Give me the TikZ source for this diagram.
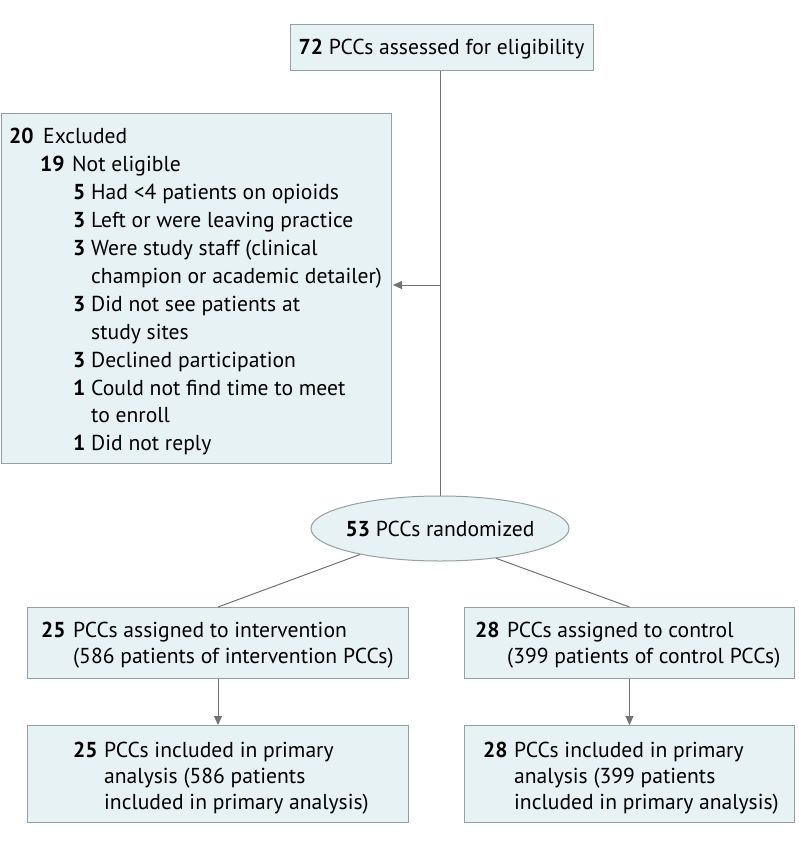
\documentclass[tikz,border=0pt]{standalone}
\usepackage{fontspec}
\setmainfont{PT Sans}
\usetikzlibrary{arrows.meta,shapes.geometric}
\definecolor{boxfill}{RGB}{230,242,243}
\definecolor{boxline}{RGB}{150,160,160}
\definecolor{lineg}{RGB}{115,115,115}
\newcommand{\fs}{\fontsize{21.6}{25}\selectfont}
\begin{document}
\begin{tikzpicture}[x=1pt,y=-1pt,font=\fs,
  box/.style={draw=boxline, fill=boxfill, line width=1pt, rectangle, inner sep=0pt, anchor=north west},
  txt/.style={anchor=base west, inner sep=0pt},
  num/.style={anchor=base west, inner sep=0pt, font=\fs\bfseries},
  conn/.style={draw=lineg, line width=1pt},
  arr/.style={conn, -{Triangle[length=9pt,width=8pt]}}]
\useasboundingbox (0,0) rectangle (798,843);

% boxes
\node[box, minimum width=303pt, minimum height=46pt] (top) at (290,24) {};
\node[anchor=base, inner sep=0pt] (toptxt) at (441.5,55) {\textbf{72} PCCs assessed for eligibility};

\node[box, minimum width=390pt, minimum height=350pt] (excl) at (0.5,113) {};
\node[ellipse, draw=boxline, fill=boxfill, line width=1pt, minimum width=258pt, minimum height=65pt, inner sep=0pt] (ell) at (440,528.5) {};
\node[anchor=base, inner sep=0pt] (elltxt) at (440,536) {\textbf{53} PCCs randomized};

\node[box, minimum width=381pt, minimum height=71pt] (intv) at (27,607) {};
\node[box, minimum width=330pt, minimum height=71pt] (ctrl) at (464,607) {};
\node[box, minimum width=381pt, minimum height=97pt] (intva) at (27,725) {};
\node[box, minimum width=330pt, minimum height=97pt] (ctrla) at (464,725) {};

% excluded text
\node[num] (n1) at (9,143) {20};   \node[txt] (t1) at (43,143) {Excluded};
\node[num] (n2) at (40,171) {19};  \node[txt] (t2) at (72,171) {Not eligible};
\node[num] (n3) at (73,199) {5};   \node[txt] (t3) at (91,199) {Had <4 patients on opioids};
\node[num] (n4) at (73,227) {3};   \node[txt] (t4) at (91,227) {Left or were leaving practice};
\node[num] (n5) at (73,255) {3};   \node[txt] (t5) at (91,255) {Were study staff (clinical};
\node[txt] (t6) at (91,283) {champion or academic detailer)};
\node[num] (n7) at (73,311) {3};   \node[txt] (t7) at (91,311) {Did not see patients at};
\node[txt] (t8) at (91,339) {study sites};
\node[num] (n9) at (73,367) {3};   \node[txt] (t9) at (91,367) {Declined participation};
\node[num] (n10) at (73,395) {1};  \node[txt] (t10) at (91,395) {Could not find time to meet};
\node[txt] (t11) at (91,422) {to enroll};
\node[num] (n12) at (73,450) {1};  \node[txt] (t12) at (91,450) {Did not reply};

% assignment text
\node[num] (a1) at (41,637) {25}; \node[txt] (a1t) at (73,637) {PCCs assigned to intervention};
\node[txt] (a2t) at (73,663) {(586 patients of intervention PCCs)};
\node[num] (b1) at (475,637) {28}; \node[txt] (b1t) at (507,637) {PCCs assigned to control};
\node[txt] (b2t) at (507,663) {(399 patients of control PCCs)};

% analysis text
\node[num] (c1) at (73,757) {25}; \node[txt] (c1t) at (104,757) {PCCs included in primary};
\node[txt] (c2t) at (104,783) {analysis (586 patients};
\node[txt] (c3t) at (104,809) {included in primary analysis)};
\node[num] (d1) at (483,757) {28}; \node[txt] (d1t) at (514,757) {PCCs included in primary};
\node[txt] (d2t) at (514,783) {analysis (399 patients};
\node[txt] (d3t) at (514,809) {included in primary analysis)};

% connectors
\draw[conn] (top.south -| ell.north) -- (ell.north);
\coordinate (j) at (440,285);
\draw[arr, shorten >=1.5pt] (j) -- (j -| excl.east);
\draw[conn] (ell.198.3) -- (intv.north);
\draw[conn] (ell.332.6) -- (ctrl.north);
\draw[arr] (intv.south) -- (intva.north);
\draw[arr] (ctrl.south) -- (ctrla.north);
\end{tikzpicture}
\end{document}
